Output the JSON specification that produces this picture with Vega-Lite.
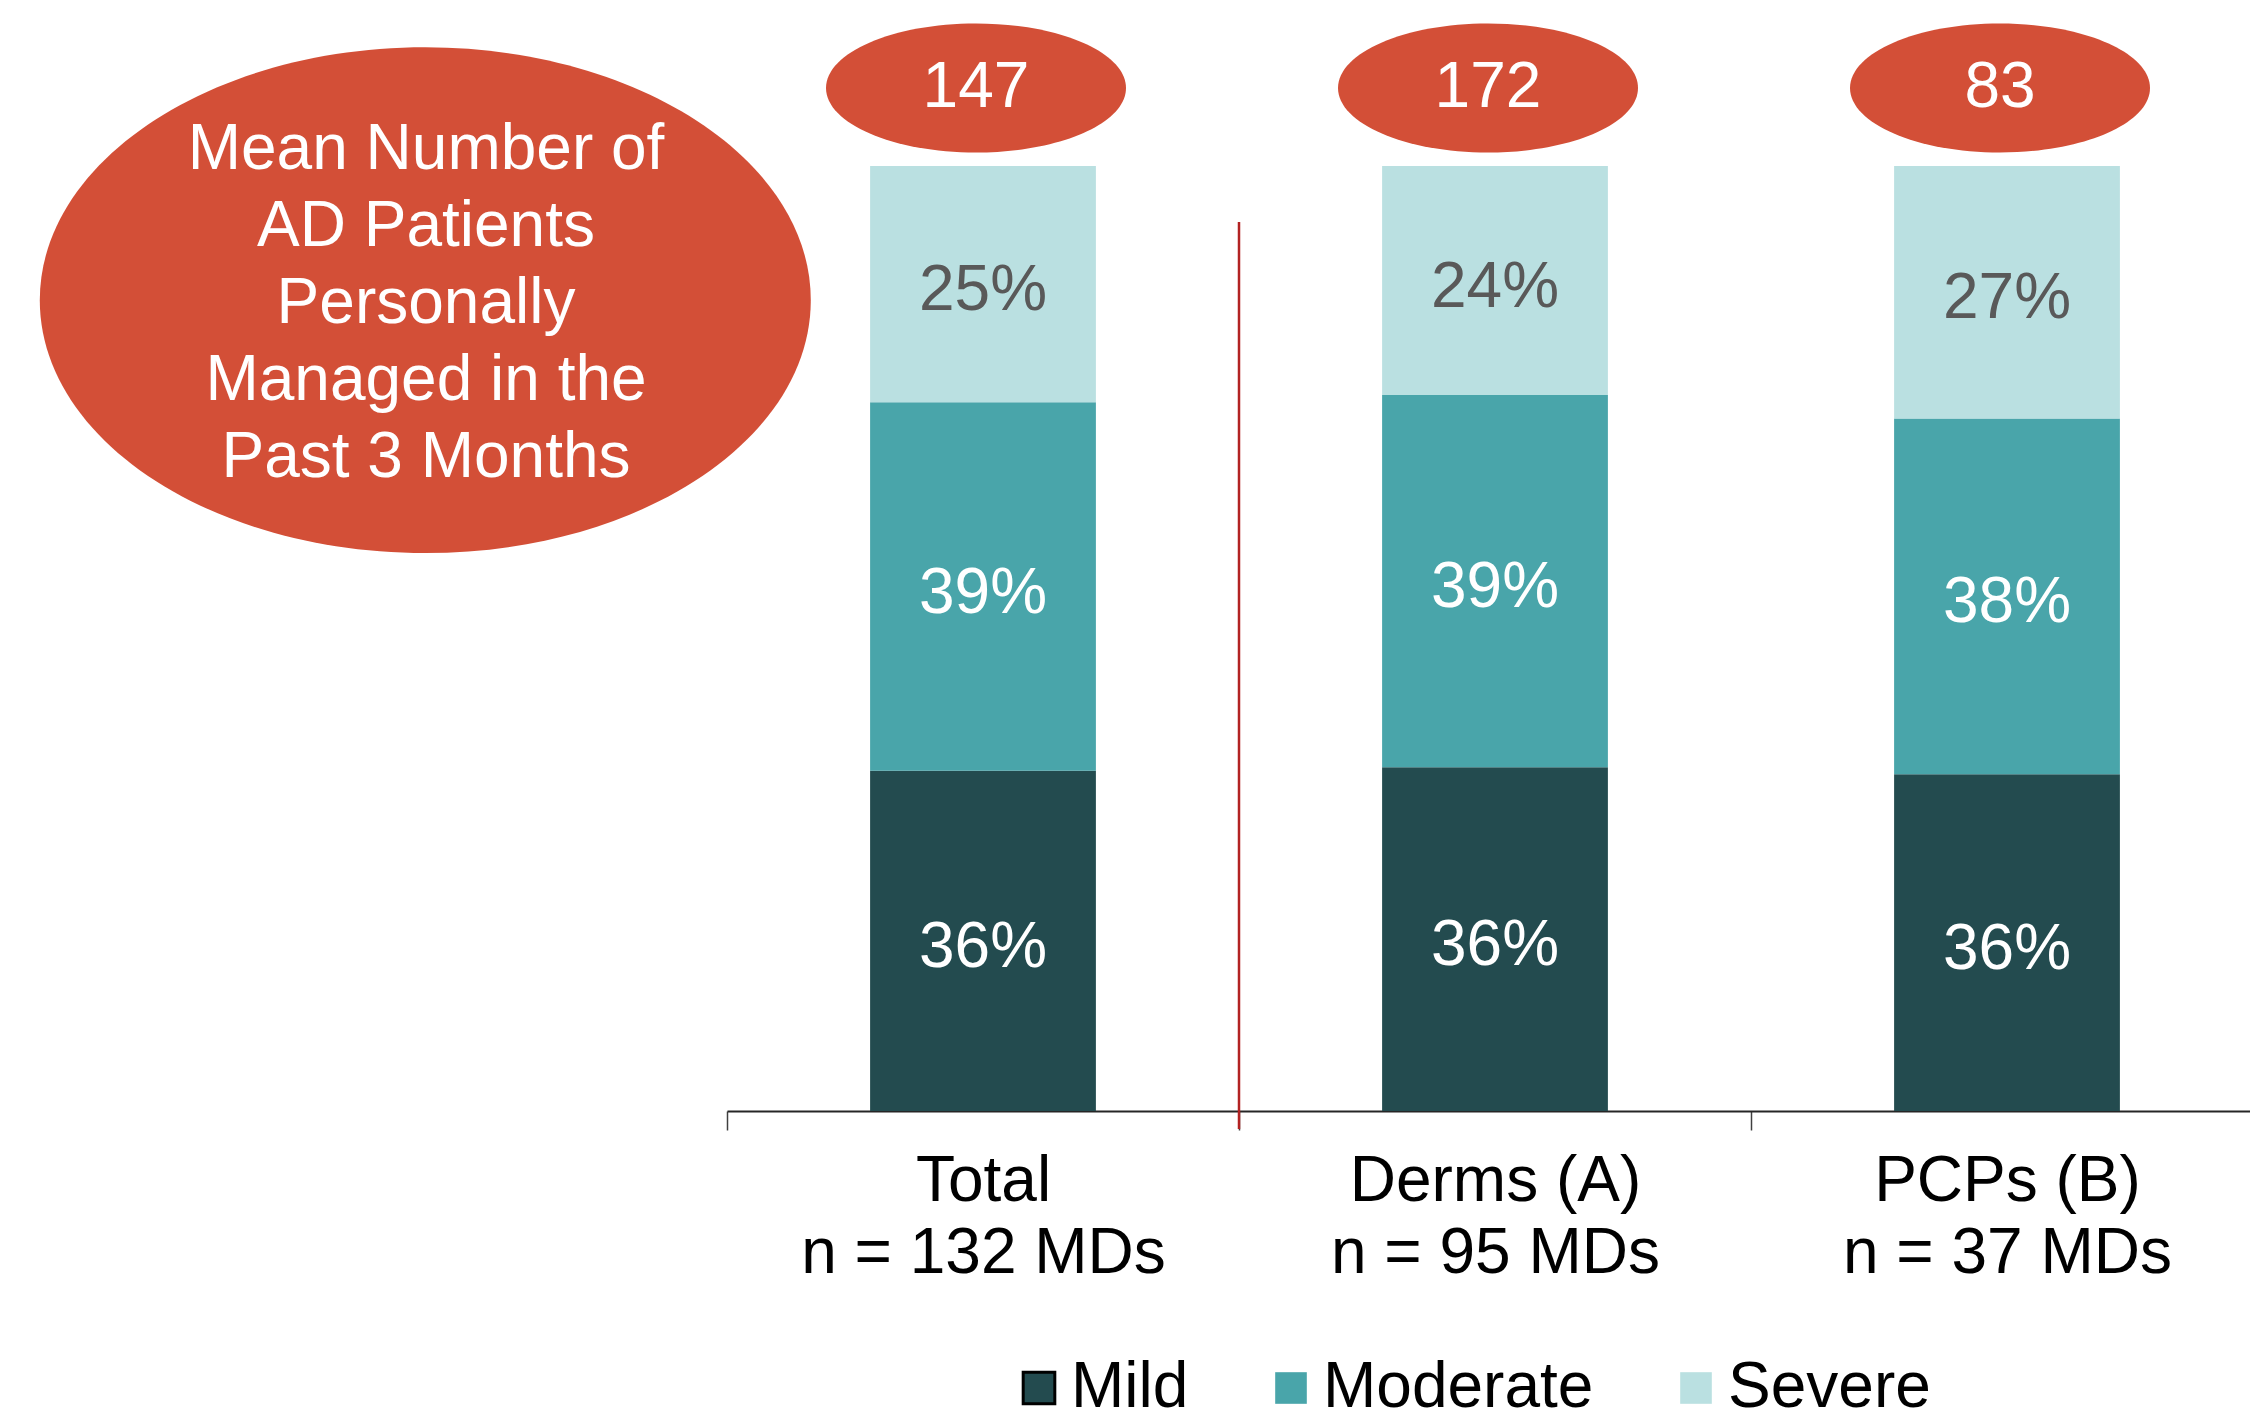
{
  "$schema": "https://vega.github.io/schema/vega-lite/v6.json",
  "autosize": {"type": "none"},
  "padding": {"left": 727, "top": 166, "right": 0, "bottom": 314},
  "width": 1523,
  "height": 945,
  "background": "white",
  "config": {
    "font": "Liberation Sans",
    "view": {"stroke": null}
  },
  "datasets": {
    "shares": [
      {"cat": "Total|n = 132 MDs", "sev": "Mild", "v": 0.36},
      {"cat": "Total|n = 132 MDs", "sev": "Moderate", "v": 0.39},
      {"cat": "Total|n = 132 MDs", "sev": "Severe", "v": 0.25},
      {"cat": "Derms (A)|n = 95 MDs", "sev": "Mild", "v": 0.36},
      {"cat": "Derms (A)|n = 95 MDs", "sev": "Moderate", "v": 0.39},
      {"cat": "Derms (A)|n = 95 MDs", "sev": "Severe", "v": 0.24},
      {"cat": "PCPs (B)|n = 37 MDs", "sev": "Mild", "v": 0.36},
      {"cat": "PCPs (B)|n = 37 MDs", "sev": "Moderate", "v": 0.38},
      {"cat": "PCPs (B)|n = 37 MDs", "sev": "Severe", "v": 0.27}
    ],
    "means": [
      {"cat": "Total|n = 132 MDs", "mean": 147},
      {"cat": "Derms (A)|n = 95 MDs", "mean": 172},
      {"cat": "PCPs (B)|n = 37 MDs", "mean": 83}
    ],
    "divider": [
      {"cat": "Derms (A)|n = 95 MDs", "top": 0.9407, "bottom": 0}
    ],
    "note": [
      {"label": ["Mean Number of", "AD Patients", "Personally", "Managed in the", "Past 3 Months"]}
    ]
  },
  "resolve": {"scale": {"x": "independent"}},
  "layer": [
    {
      "layer": [
        {
          "data": {"name": "shares"},
          "transform": [
            {"stack": "v", "groupby": ["cat"], "sort": [{"field": "sev", "order": "ascending"}], "offset": "normalize", "as": ["y0", "y1"]}
          ],
          "layer": [
            {
              "mark": {"type": "bar", "width": {"band": 0.441}},
              "encoding": {
                "x": {
                  "field": "cat", "type": "nominal", "sort": null,
                  "scale": {"domain": ["Total|n = 132 MDs", "Derms (A)|n = 95 MDs", "PCPs (B)|n = 37 MDs"], "range": [0, 1536], "paddingInner": 0, "paddingOuter": 0},
                  "axis": {
                    "title": null,
                    "labelExpr": "split(datum.label, '|')",
                    "labelAngle": 0,
                    "labelFontSize": 64,
                    "labelLineHeight": 72,
                    "labelColor": "#000000",
                    "labelPadding": 19,
                    "labelLimit": 0,
                    "labelOverlap": false,
                    "tickBand": "extent",
                    "tickSize": 19,
                    "tickColor": "#404040",
                    "tickWidth": 1.5,
                    "domainColor": "#262626",
                    "domainWidth": 2
                  }
                },
                "y": {"field": "y0", "type": "quantitative", "scale": {"domain": [0, 1], "nice": false}, "axis": null},
                "y2": {"field": "y1"},
                "color": {
                  "field": "sev", "type": "nominal",
                  "scale": {"domain": ["Mild", "Moderate", "Severe"], "range": ["#234B4F", "#49A5AA", "#BAE0E1"]},
                  "legend": {
                    "title": null,
                    "orient": "none",
                    "legendX": 280,
                    "legendY": 1190,
                    "direction": "horizontal",
                    "symbolType": "square",
                    "symbolSize": 1000,
                    "symbolStrokeWidth": 0,
                    "labelFontSize": 64,
                    "labelColor": "#000000",
                    "labelOffset": 0,
                    "columnPadding": 70,
                    "labelLimit": 0,
                    "encode": {
                      "symbols": {"update": {"stroke": {"value": "#000000"}, "strokeWidth": {"signal": "datum.label === 'Mild' ? 3 : 0"}}}
                    }
                  }
                }
              }
            },
            {
              "transform": [
                {"fold": ["y0", "y1"], "as": ["edge", "pos"]},
                {"aggregate": [{"op": "mean", "field": "pos", "as": "mid"}], "groupby": ["cat", "sev", "v"]}
              ],
              "mark": {"type": "text", "fontSize": 64, "align": "center", "baseline": "middle", "yOffset": 7},
              "encoding": {
                "x": {"field": "cat", "type": "nominal", "sort": null},
                "y": {"field": "mid", "type": "quantitative", "scale": {"domain": [0, 1], "nice": false}},
                "text": {"field": "v", "type": "quantitative", "format": ".0%"},
                "color": {"condition": {"test": "datum.sev === 'Severe'", "value": "#595959"}, "value": "#FFFFFF"}
              }
            }
          ]
        },
        {
          "data": {"name": "means"},
          "layer": [
            {
              "mark": {"type": "point", "filled": true, "opacity": 1, "color": "#D34F37", "size": 90000, "shape": "M-1,0A1,0.43,0,1,0,1,0A1,0.43,0,1,0,-1,0Z", "yOffset": -78, "xOffset": -7},
              "encoding": {
                "x": {"field": "cat", "type": "nominal", "sort": null},
                "y": {"datum": 1, "type": "quantitative"}
              }
            },
            {
              "mark": {"type": "text", "fontSize": 64, "color": "#FFFFFF", "align": "center", "baseline": "middle", "yOffset": -78, "xOffset": -7},
              "encoding": {
                "x": {"field": "cat", "type": "nominal", "sort": null},
                "y": {"datum": 1, "type": "quantitative"},
                "text": {"field": "mean", "type": "quantitative"}
              }
            }
          ]
        },
        {
          "data": {"name": "divider"},
          "mark": {"type": "rule", "color": "#B22222", "strokeWidth": 2.5, "y2Offset": 18},
          "encoding": {
            "x": {"field": "cat", "type": "nominal", "bandPosition": 0},
            "y": {"field": "top", "type": "quantitative"},
            "y2": {"field": "bottom"}
          }
        }
      ]
    },
    {
      "data": {"name": "note"},
      "layer": [
        {
          "mark": {"type": "point", "filled": true, "opacity": 1, "color": "#D34F37", "size": 594441, "shape": "M-1,0A1,0.656,0,1,0,1,0A1,0.656,0,1,0,-1,0Z"},
          "encoding": {
            "x": {"datum": 0.585, "type": "quantitative", "scale": {"domain": [0, 1], "range": [-727, 0]}, "axis": null},
            "y": {"datum": 0.858, "type": "quantitative"}
          }
        },
        {
          "mark": {"type": "text", "fontSize": 64, "lineHeight": 77, "color": "#FFFFFF", "align": "center", "baseline": "middle", "yOffset": -150},
          "encoding": {
            "x": {"datum": 0.586, "type": "quantitative", "scale": {"domain": [0, 1], "range": [-727, 0]}, "axis": null},
            "y": {"datum": 0.858, "type": "quantitative"},
            "text": {"field": "label"}
          }
        }
      ]
    }
  ]
}
